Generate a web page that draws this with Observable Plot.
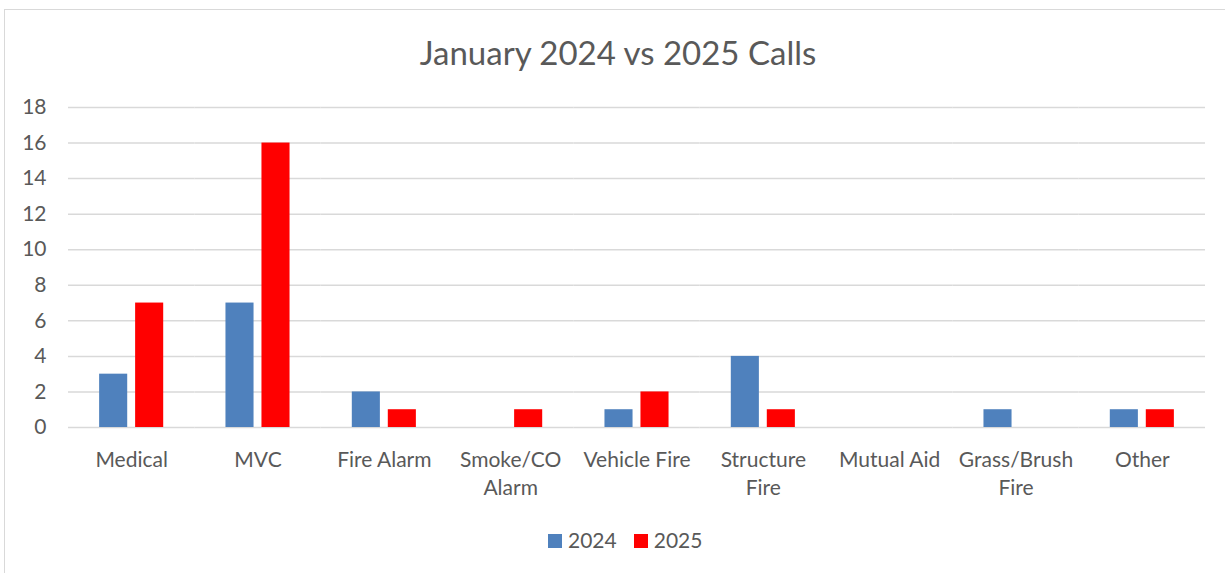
<!DOCTYPE html>
<html><head><meta charset="utf-8">
<script src="https://cdn.jsdelivr.net/npm/d3@7"></script>
<script src="https://cdn.jsdelivr.net/npm/@observablehq/plot@0.6"></script>
<style>
body{margin:0;background:#fff;font-family:Lato,"Open Sans",sans-serif;color:#595959;}
#wrap{position:relative;width:1225px;height:573px;overflow:hidden;}
#frame{position:absolute;left:4px;top:9px;width:1400px;height:700px;border-top:1.5px solid #d9d9d9;border-left:1.5px solid #d9d9d9;}
#title{position:absolute;left:0;width:1236px;top:36px;text-align:center;font-size:33px;line-height:32px;white-space:nowrap;}
#chart{position:absolute;left:0;top:90px;}
#legend{position:absolute;left:548px;top:530px;font-size:21px;line-height:20px;white-space:nowrap;}
#legend .sw{display:inline-block;width:14px;height:14px;margin-right:6px;vertical-align:baseline;}
#legend .it{display:inline-block;margin-right:17px;}
</style></head>
<body>
<div id="wrap">
<div id="frame"></div>
<div id="title">January 2024 vs 2025 Calls</div>
<div id="chart"></div>
<div id="legend"></div>
</div>
<script>
const categories = ["Medical","MVC","Fire Alarm","Smoke/CO Alarm","Vehicle Fire","Structure Fire","Mutual Aid","Grass/Brush Fire","Other"];
const tickLabels = ["Medical","MVC","Fire Alarm","Smoke/CO\nAlarm","Vehicle Fire","Structure\nFire","Mutual Aid","Grass/Brush\nFire","Other"];
const years = ["2024","2025"];
const values2024 = [3,7,2,0,1,4,0,1,1];
const values2025 = [7,16,1,1,2,1,0,0,1];
const colors = ["#4f81bd","#ff0000"];
const yTicks = [0,2,4,6,8,10,12,14,16,18];

const data = categories.flatMap((c,i)=>[
  {category:c, year:years[0], value:values2024[i]},
  {category:c, year:years[1], value:values2025[i]}
]);

const chart = Plot.plot({
  width:1225, height:430,
  marginLeft:68, marginRight:20, marginTop:17, marginBottom:93,
  style:{fontFamily:"Lato, 'Open Sans', sans-serif", fontSize:"21px", color:"#595959", background:"transparent"},
  fx:{domain:categories, padding:0, round:false, label:null},
  x:{domain:years, paddingInner:0.22, paddingOuter:0.865, round:false, axis:null},
  y:{domain:[0,18], label:null},
  color:{domain:years, range:colors},
  marks:[
    Plot.gridY(yTicks,{stroke:"#d9d9d9", strokeOpacity:1, strokeWidth:1.5}),
    Plot.axisY(yTicks,{tickSize:0, tickPadding:22, fontSize:21, fill:"#595959", label:null}),
    Plot.barY(data,{fx:"category", x:"year", y:"value", fill:"year"}),
    Plot.axisFx({anchor:"bottom", tickSize:0, tickPadding:19, fontSize:21, fill:"#595959", lineHeight:1.35, label:null,
      tickFormat:(d)=>tickLabels[categories.indexOf(d)]})
  ]
});
document.getElementById("chart").appendChild(chart);

const legend = document.getElementById("legend");
years.forEach((y,i)=>{
  const it = document.createElement("span");
  it.className="it";
  const sw = document.createElement("span");
  sw.className="sw"; sw.style.background=colors[i];
  it.appendChild(sw);
  it.appendChild(document.createTextNode(y));
  legend.appendChild(it);
});
</script>
</body></html>
